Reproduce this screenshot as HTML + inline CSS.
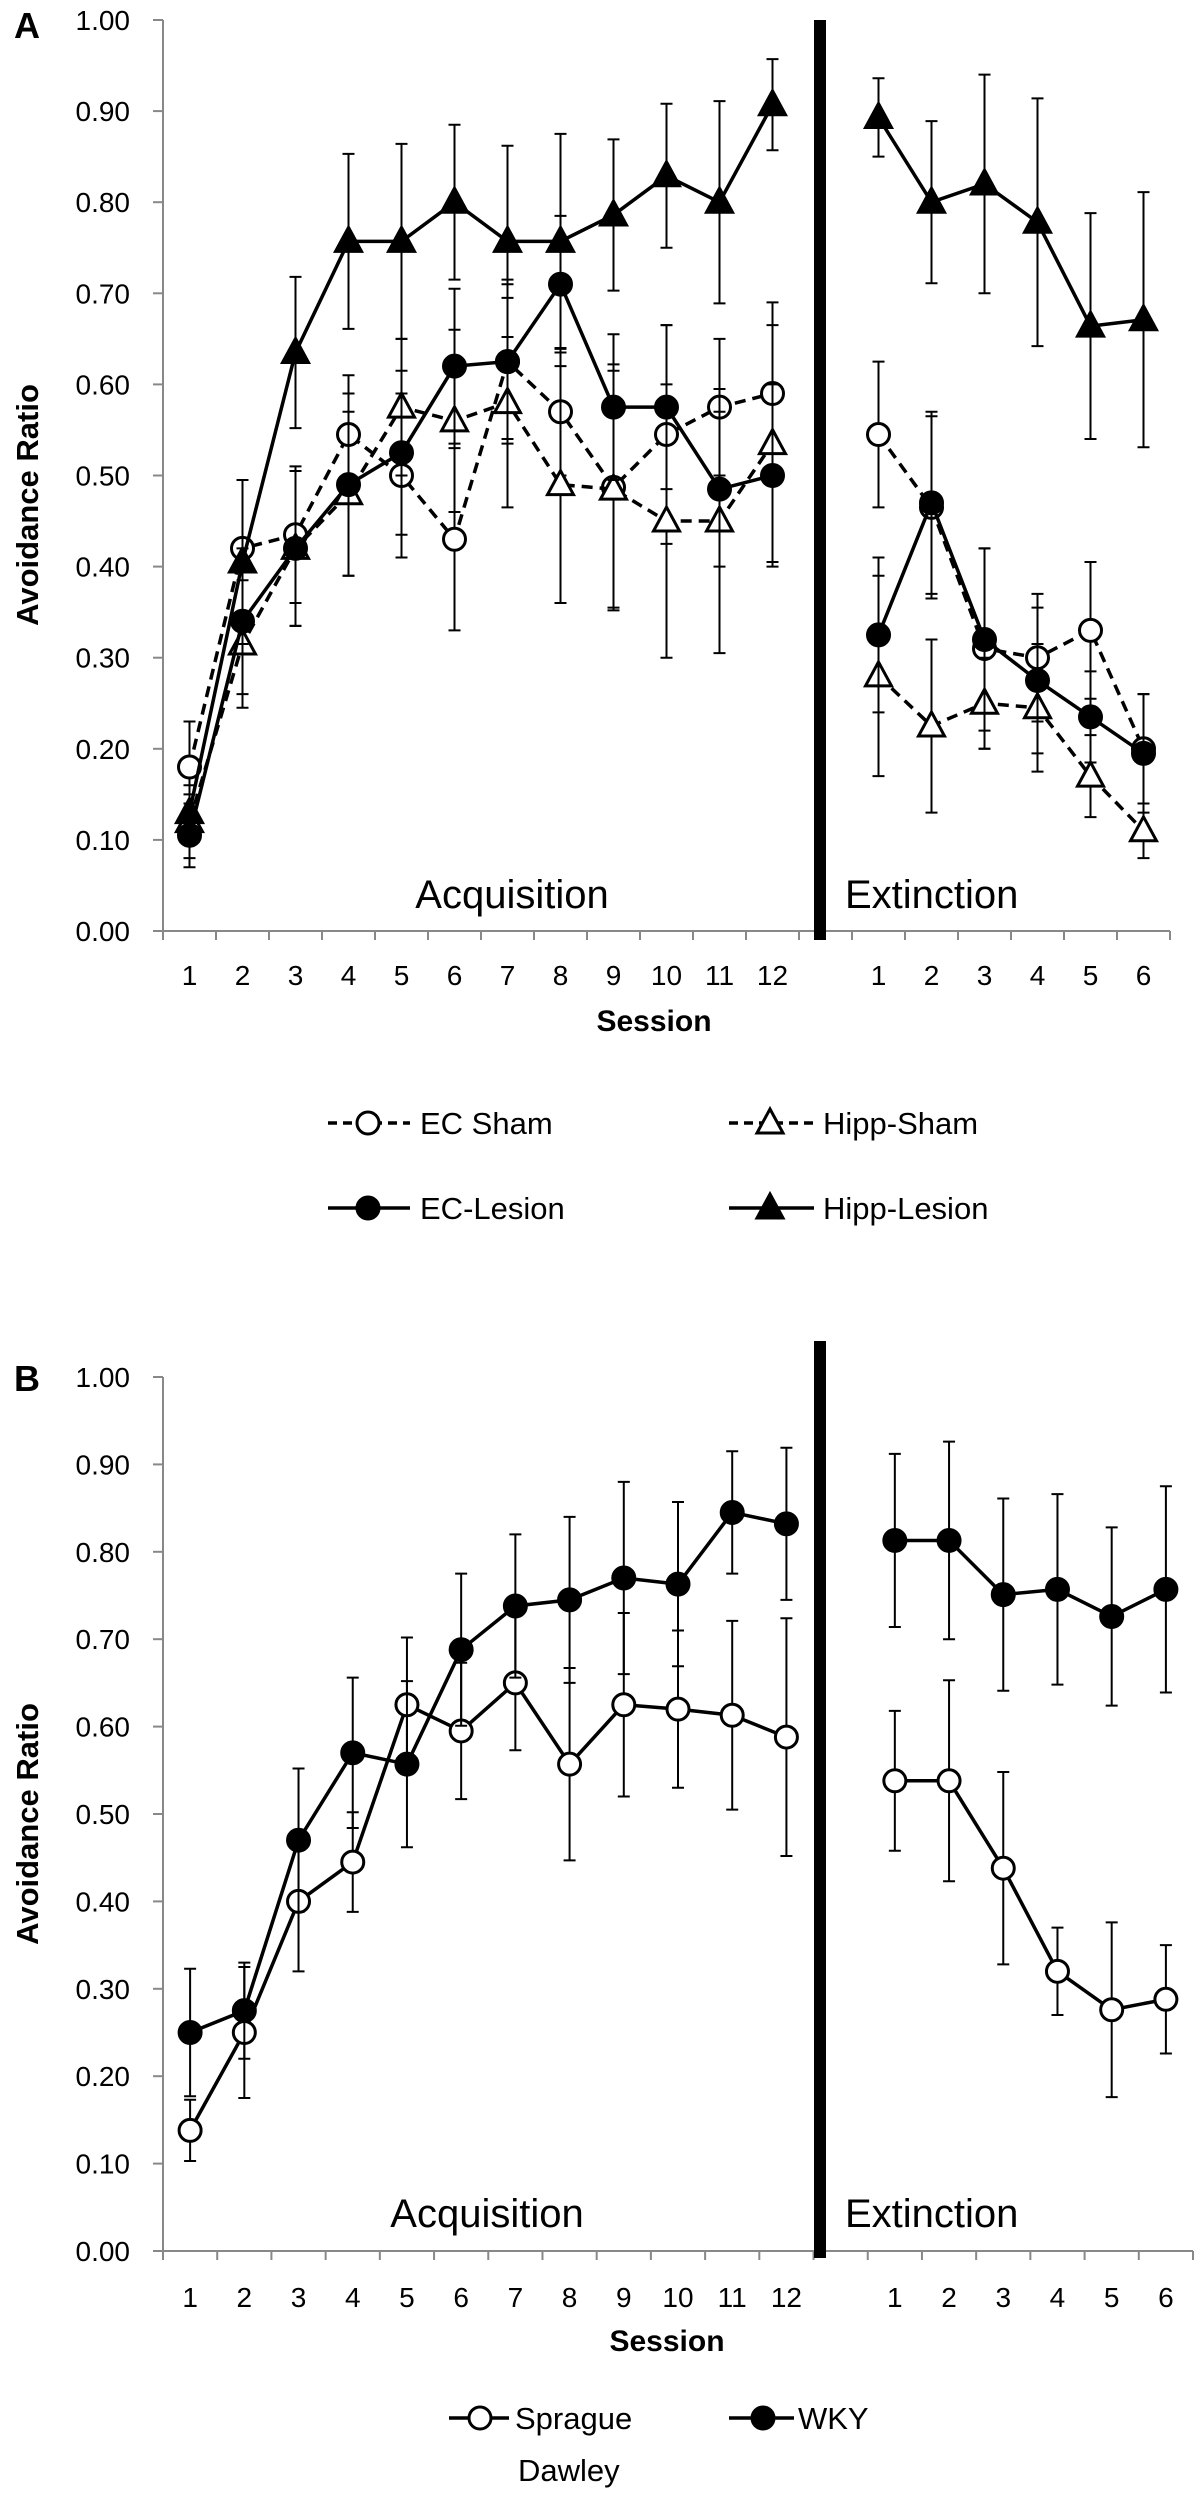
<!DOCTYPE html>
<html><head><meta charset="utf-8">
<style>
html,body{margin:0;padding:0;background:#fff;}
svg{display:block;font-family:"Liberation Sans",sans-serif;}
</style></head>
<body>
<svg id="fig" width="1203" height="2500" viewBox="0 0 1203 2500"></svg>
<script>
// ---------- Panel A data ----------
const sessionsAcqA = ["1","2","3","4","5","6","7","8","9","10","11","12"];
const sessionsExtA = ["1","2","3","4","5","6"];
const yTicks = [0,0.1,0.2,0.3,0.4,0.5,0.6,0.7,0.8,0.9,1.0];
const yTickLabels = ["0.00","0.10","0.20","0.30","0.40","0.50","0.60","0.70","0.80","0.90","1.00"];

const ecShamAcq = [0.18,0.42,0.435,0.545,0.50,0.43,0.625,0.57,0.487,0.545,0.575,0.59];
const ecShamExt = [0.545,0.465,0.31,0.30,0.33,0.20];
const ecShamErrAcq = [0.05,0.075,0.075,0.065,0.09,0.10,0.09,0.07,0.135,0.12,0.075,0.10];
const ecShamErrExt = [0.08,0.10,0.11,0.07,0.075,0.06];

const ecLesionAcq = [0.105,0.34,0.42,0.49,0.525,0.62,0.625,0.71,0.575,0.575,0.485,0.50];
const ecLesionExt = [0.325,0.47,0.32,0.275,0.235,0.195];
const ecLesionErrAcq = [0.035,0.08,0.085,0.10,0.09,0.085,0.085,0.075,0.08,0.09,0.085,0.10];
const ecLesionErrExt = [0.085,0.10,0.10,0.08,0.05,0.065];

const hippShamAcq = [0.12,0.315,0.42,0.48,0.575,0.56,0.58,0.49,0.485,0.45,0.45,0.535];
const hippShamExt = [0.28,0.225,0.25,0.245,0.17,0.11];
const hippShamErrAcq = [0.04,0.07,0.085,0.09,0.075,0.10,0.115,0.13,0.13,0.15,0.145,0.13];
const hippShamErrExt = [0.11,0.095,0.05,0.07,0.045,0.03];

const hippLesionAcq = [0.13,0.405,0.635,0.757,0.757,0.80,0.757,0.757,0.786,0.829,0.80,0.907];
const hippLesionExt = [0.893,0.80,0.82,0.778,0.664,0.671];
const hippLesionErrAcq = [0.02,0.09,0.083,0.096,0.107,0.085,0.105,0.118,0.083,0.079,0.111,0.05];
const hippLesionErrExt = [0.043,0.089,0.12,0.136,0.124,0.14];

// ---------- Panel B data ----------
const sdAcq = [0.138,0.25,0.40,0.445,0.625,0.595,0.65,0.557,0.625,0.62,0.613,0.588];
const sdExt = [0.538,0.538,0.438,0.32,0.276,0.288];
const sdErrAcq = [0.035,0.075,0.08,0.057,0.077,0.078,0.077,0.11,0.105,0.09,0.108,0.136];
const sdErrExt = [0.08,0.115,0.11,0.05,0.10,0.062];

const wkyAcq = [0.25,0.275,0.47,0.57,0.557,0.688,0.738,0.745,0.77,0.763,0.845,0.832];
const wkyExt = [0.813,0.813,0.751,0.757,0.726,0.757];
const wkyErrAcq = [0.073,0.055,0.082,0.086,0.095,0.087,0.082,0.095,0.11,0.094,0.07,0.087];
const wkyErrExt = [0.099,0.113,0.11,0.109,0.102,0.118];

const NS = "http://www.w3.org/2000/svg";
const svg = document.getElementById('fig');
function mk(tag, attrs, parent){
  const e = document.createElementNS(NS, tag);
  for (const k in attrs) e.setAttribute(k, attrs[k]);
  (parent||svg).appendChild(e);
  return e;
}

function panel(P){
  const g = mk('g',{});
  
  
  const slot = (P.xEnd - P.x0)/19;
  const xAcq = i => P.x0 + (i+0.5)*slot;
  const xExt = i => P.x0 + (i+13.5)*slot;
  const y = v => P.y0 - (P.y0 - P.y1)*v;

  // y axis
  const ya = mk('line',{x1:P.x0,y1:y(1),x2:P.x0,y2:y(0),stroke:'#888','stroke-width':2},g);
  
  
  yTicks.forEach((t,i)=>{
    const tk = mk('line',{x1:P.x0-10,y1:y(t),x2:P.x0,y2:y(t),stroke:'#888','stroke-width':2},g);
    
    
    const tl = mk('text',{x:P.x0-33,y:y(t)+10,'text-anchor':'end','font-size':28,fill:'#000'},g);
    tl.textContent = yTickLabels[i];
    
    
  });
  // x axis
  const xa = mk('line',{x1:P.x0-10,y1:y(0),x2:P.xEnd,y2:y(0),stroke:'#888','stroke-width':2},g);
  
  
  for(let i=0;i<=19;i++){
    const tk = mk('line',{x1:P.x0+i*slot,y1:y(0),x2:P.x0+i*slot,y2:y(0)+9,stroke:'#888','stroke-width':2},g);
    
    
  }
  sessionsAcqA.forEach((s,i)=>{
    const t = mk('text',{x:xAcq(i),y:P.tickY,'text-anchor':'middle','font-size':28},g);
    t.textContent = s;
    
    
  });
  sessionsExtA.forEach((s,i)=>{
    const t = mk('text',{x:xExt(i),y:P.tickY,'text-anchor':'middle','font-size':28},g);
    t.textContent = s;
    
    
  });
  // divider
  const dv = mk('rect',{x:814,y:P.divTop,width:12,height:P.divBot-P.divTop,fill:'#000'},g);
  
  
  // titles
  const pl = mk('text',{x:P.letterX,y:P.letterY,'font-size':36,'font-weight':'bold'},g);
  pl.textContent = P.letter;
  
  
  const yt = mk('text',{x:0,y:0,'font-size':31,'font-weight':'bold','text-anchor':'middle',transform:`translate(38,${P.yTitleY}) rotate(-90)`},g);
  yt.textContent = 'Avoidance Ratio';
  
  
  const xt = mk('text',{x:P.sessX,y:P.sessY,'font-size':30,'font-weight':'bold','text-anchor':'middle'},g);
  xt.textContent = 'Session';
  
  
  const aq = mk('text',{x:P.acqX,y:P.phaseY,'font-size':40,'text-anchor':'middle'},g);
  aq.textContent = 'Acquisition';
  
  
  const ex = mk('text',{x:845,y:P.phaseY,'font-size':40},g);
  ex.textContent = 'Extinction';
  
  

  // series
  P.series.forEach(S=>{
    const sg = mk('g',{},g);
    
    
    const pts = [[S.acq,S.errAcq,xAcq],[S.ext,S.errExt,xExt]];
    pts.forEach(([vals,errs,xf])=>{
      vals.forEach((v,i)=>{
        const x = xf(i), e = errs[i];
        const eb = mk('path',{d:`M${x},${y(v+e)}V${y(v-e)}M${x-6},${y(v+e)}h12M${x-6},${y(v-e)}h12`,stroke:'#000','stroke-width':2,fill:'none'},sg);
        
        
      });
      const d = vals.map((v,i)=>(i?'L':'M')+xf(i)+','+y(v)).join('');
      const ln = mk('path',{d:d,stroke:'#000','stroke-width':3.5,fill:'none','stroke-dasharray':S.dash?'11,7':'none'},sg);
      
      
    });
    pts.forEach(([vals,errs,xf])=>{
      vals.forEach((v,i)=>{
        const m = marker(S.shape,S.fill,xf(i),y(v),sg);
        
        
      });
    });
  });
}

function marker(shape, fill, x, y, parent){
  if(shape==='circle') return mk('circle',{cx:x,cy:y,r:11,fill:fill?'#000':'#fff',stroke:'#000','stroke-width':3},parent);
  return mk('path',{d:`M${x},${y-14}L${x+13},${y+10}L${x-13},${y+10}Z`,fill:fill?'#000':'#fff',stroke:'#000','stroke-width':3,'stroke-linejoin':'miter'},parent);
}

panel({name:'panel-a',letter:'A',letterX:14,letterY:38,x0:163,xEnd:1170,y0:931,y1:20,tickY:985,
  divTop:20,divBot:940,yTitleY:505,sessX:654,sessY:1031,acqX:512,phaseY:908,
  series:[
    {name:'series-ec-sham',acq:ecShamAcq,ext:ecShamExt,errAcq:ecShamErrAcq,errExt:ecShamErrExt,shape:'circle',fill:false,dash:true},
    {name:'series-hipp-sham',acq:hippShamAcq,ext:hippShamExt,errAcq:hippShamErrAcq,errExt:hippShamErrExt,shape:'tri',fill:false,dash:true},
    {name:'series-ec-lesion',acq:ecLesionAcq,ext:ecLesionExt,errAcq:ecLesionErrAcq,errExt:ecLesionErrExt,shape:'circle',fill:true,dash:false},
    {name:'series-hipp-lesion',acq:hippLesionAcq,ext:hippLesionExt,errAcq:hippLesionErrAcq,errExt:hippLesionErrExt,shape:'tri',fill:true,dash:false}
  ]});

panel({name:'panel-b',letter:'B',letterX:14,letterY:1391,x0:163,xEnd:1193,y0:2251,y1:1377,tickY:2307,
  divTop:1341,divBot:2258,yTitleY:1824,sessX:667,sessY:2351,acqX:487,phaseY:2227,
  series:[
    {name:'series-sprague-dawley',acq:sdAcq,ext:sdExt,errAcq:sdErrAcq,errExt:sdErrExt,shape:'circle',fill:false,dash:false},
    {name:'series-wky',acq:wkyAcq,ext:wkyExt,errAcq:wkyErrAcq,errExt:wkyErrExt,shape:'circle',fill:true,dash:false}
  ]});

// legends
function legendEntry(name, x1, x2, cx, cy, shape, fill, dash, tx, label){
  const g = mk('g',{});
  
  
  mk('line',{x1:x1,y1:cy,x2:x2,y2:cy,stroke:'#000','stroke-width':3.5,'stroke-dasharray':dash?'9,6':'none'},g);
  marker(shape,fill,cx,cy,g);
  const t = mk('text',{x:tx,y:cy+11,'font-size':31},g);
  t.textContent = label;
  return g;
}
legendEntry('legend-ec-sham',328,410,368,1123,'circle',false,true,420,'EC Sham');
legendEntry('legend-hipp-sham',729,814,770,1123,'tri',false,true,823,'Hipp-Sham');
legendEntry('legend-ec-lesion',328,410,368,1208,'circle',true,false,420,'EC-Lesion');
legendEntry('legend-hipp-lesion',729,814,770,1208,'tri',true,false,823,'Hipp-Lesion');
legendEntry('legend-sprague-dawley',449,509,480,2418,'circle',false,false,515,'Sprague');
const dw = mk('text',{x:518,y:2481,'font-size':31});
dw.textContent = 'Dawley';


legendEntry('legend-wky',729,794,763,2418,'circle',true,false,798,'WKY');
</script>
</body></html>
